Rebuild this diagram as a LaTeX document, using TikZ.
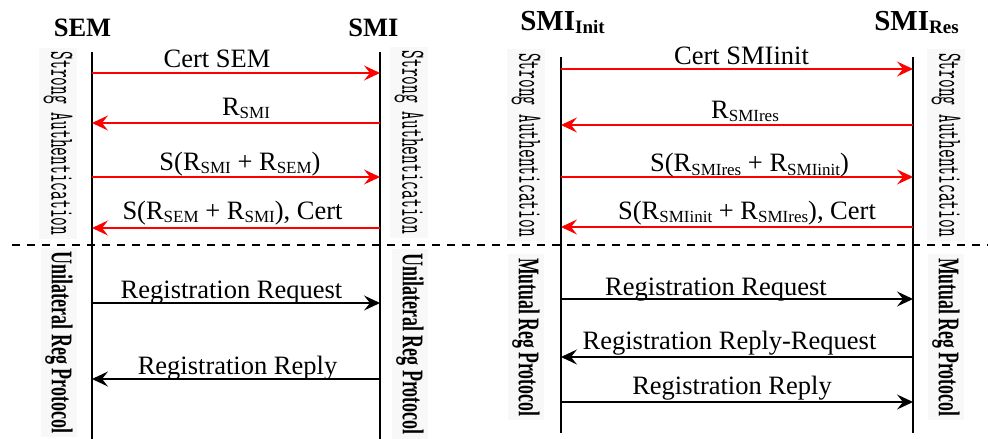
\documentclass[tikz,border=0pt]{standalone}
\usepackage{fontspec}
\setmainfont{Liberation Serif}
\usetikzlibrary{arrows.meta}
\definecolor{msgred}{RGB}{255,0,0}
\definecolor{bandgray}{RGB}{248,248,248}
% lowered subscripts for message labels and headers
\newcommand\lowsub[1]{\raisebox{-3.5pt}{\fontsize{17}{17}\selectfont #1}}
\newcommand\hdsub[1]{\raisebox{-3.5pt}{\fontsize{19}{19}\selectfont\bfseries #1}}
% condensed vertical phase labels
\newcommand\authtext{\scalebox{0.5}[1]{\ttfamily\fontsize{34}{34}\selectfont Strong Authentication}}
\newcommand\regtext[2]{\scalebox{#1}[1]{\bfseries\fontsize{30}{30}\selectfont #2}}

\begin{document}
\begin{tikzpicture}[x=1pt,y=-1pt,
  lifeline/.style={line width=1.8pt},
  msg/.style={line width=1.6pt,-{Stealth[length=16pt,width=15pt,inset=6pt]}},
  authmsg/.style={msg,msgred},
  lbl/.style={anchor=base,inner sep=0pt,font=\fontsize{26.5}{30}\selectfont},
  hdr/.style={anchor=base,inner sep=0pt,font=\bfseries\fontsize{26.5}{30}\selectfont},
  hdrbig/.style={anchor=base,inner sep=0pt,font=\bfseries\fontsize{29}{32}\selectfont},
  phase/.style={rotate=-90,inner sep=4pt,fill=bandgray}
]
\useasboundingbox (0,0) rectangle (988,439);

% ---------- left exchange: SEM / SMI ----------
\node[hdr] (sem) at (82.5,36) {SEM};
\node[hdr] (smi) at (373.5,36) {SMI};

\coordinate (semT) at (92,52);  \coordinate (semB) at (92,439);
\coordinate (smiT) at (380,52); \coordinate (smiB) at (380,439);

\node[phase] (authL1) at (58,143.5) {\authtext};
\node[phase] (authL2) at (409,142.5) {\authtext};
\node[phase] (uniL1) at (59,342.5) {\regtext{0.6}{Unilateral Reg Protocol}};
\node[phase] (uniL2) at (410,344) {\regtext{0.6}{Unilateral Reg Protocol}};

\draw[lifeline] (semT) -- (semB);
\draw[lifeline] (smiT) -- (smiB);

\foreach \i/\y in {1/73,2/123,3/177,4/228,5/303,6/379}{
  \coordinate (a\i) at (92,\y);
  \coordinate (b\i) at (380,\y);
}
\draw[authmsg] (a1) -- (b1);
\draw[authmsg] (b2) -- (a2);
\draw[authmsg] (a3) -- (b3);
\draw[authmsg] (b4) -- (a4);
\draw[msg] (a5) -- (b5);
\draw[msg] (b6) -- (a6);

\node[lbl] (ma1) at (217,67) {Cert SEM};
\node[lbl] (ma2) at (246,115) {R\lowsub{SMI}};
\node[lbl] (ma3) at (240,170) {S(R\lowsub{SMI} + R\lowsub{SEM})};
\node[lbl] (ma4) at (232.5,219) {S(R\lowsub{SEM} + R\lowsub{SMI}), Cert};
\node[lbl] (ma5) at (231.5,298) {Registration Request};
\node[lbl] (ma6) at (237.5,374) {Registration Reply};

% ---------- right exchange: SMI_Init / SMI_Res ----------
\node[hdrbig] (init) at (562.5,30) {SMI\hdsub{Init}};
\node[hdrbig] (res) at (916.5,30) {SMI\hdsub{Res}};

\coordinate (iniT) at (561,57); \coordinate (iniB) at (561,433);
\coordinate (resT) at (913,57); \coordinate (resB) at (913,433);

\node[phase] (authR1) at (526,145) {\authtext};
\node[phase] (authR2) at (946,145) {\authtext};
\node[phase] (mutR1) at (526,337) {\regtext{0.59}{Mutual Reg Protocol}};
\node[phase] (mutR2) at (946,337) {\regtext{0.59}{Mutual Reg Protocol}};

\draw[lifeline] (iniT) -- (iniB);
\draw[lifeline] (resT) -- (resB);

\foreach \i/\y in {1/69,2/125,3/177,4/227,5/299,6/357,7/402}{
  \coordinate (c\i) at (561,\y);
  \coordinate (d\i) at (913,\y);
}
\draw[authmsg] (c1) -- (d1);
\draw[authmsg] (d2) -- (c2);
\draw[authmsg] (c3) -- (d3);
\draw[authmsg] (d4) -- (c4);
\draw[msg] (c5) -- (d5);
\draw[msg] (d6) -- (c6);
\draw[msg] (c7) -- (d7);

\node[lbl] (mb1) at (741.5,64) {Cert SMIinit};
\node[lbl] (mb2) at (745,118) {R\lowsub{SMIres}};
\node[lbl] (mb3) at (749.5,171.5) {S(R\lowsub{SMIres} + R\lowsub{SMIinit})};
\node[lbl] (mb4) at (747,219) {S(R\lowsub{SMIinit} + R\lowsub{SMIres}), Cert};
\node[lbl] (mb5) at (716,295) {Registration Request};
\node[lbl] (mb6) at (729.5,349) {Registration Reply-Request};
\node[lbl] (mb7) at (732,394) {Registration Reply};

% ---------- phase separator ----------
\coordinate (sepL) at (12,245);
\coordinate (sepR) at (988,245);
\draw[line width=1.5pt,dash pattern=on 8pt off 7pt] (sepL) -- (sepR);
\end{tikzpicture}
\end{document}
